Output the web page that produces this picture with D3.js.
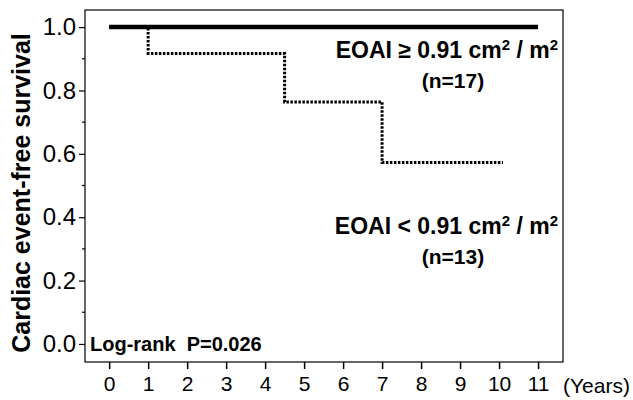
<!DOCTYPE html>
<html>
<head>
<meta charset="utf-8">
<title></title>
<script src="https://cdn.jsdelivr.net/npm/d3@7"></script>
<style>
  body { margin: 0; background: #fff; }
  text { font-family: "Liberation Sans", Arial, sans-serif; fill: #000; }
  .tick-label { font-size: 21px; }
  .note { font-size: 21px; font-weight: bold; white-space: pre; }
</style>
</head>
<body>
<script>
// data
var highTimes = [0, 11];
var highSurv  = [1.0, 1.0];
var lowTimes  = [0, 1, 4.5, 7, 10.1];
var lowSurv   = [1.0, 0.917, 0.764, 0.573, 0.573];
var xTicks = [0, 1, 2, 3, 4, 5, 6, 7, 8, 9, 10, 11];
var yTicks = [0, 0.2, 0.4, 0.6, 0.8, 1.0];
var yMinor = [0.1, 0.3, 0.5, 0.7, 0.9];

var width = 633, height = 400;
var box = {left: 85, right: 563, top: 10, bottom: 362};

var svg = d3.select("body").append("svg")
    .attr("width", width)
    .attr("height", height);

var x = d3.scaleLinear().domain([-0.62, 11.64]).range([box.left, box.right]);
var y = d3.scaleLinear().domain([-0.057, 1.054]).range([box.bottom, box.top]);

// frame
svg.append("rect")
    .attr("x", box.left).attr("y", box.top)
    .attr("width", box.right - box.left)
    .attr("height", box.bottom - box.top)
    .attr("fill", "none")
    .attr("stroke", "#000")
    .attr("stroke-width", 1.2);

// y axis
var yAxis = d3.axisLeft(y).tickValues(yTicks).tickSize(6).tickPadding(3)
    .tickFormat(d3.format(".1f"));
var gy = svg.append("g").attr("transform", "translate(" + box.left + ",0)").call(yAxis)
    .attr("font-size", null).attr("font-family", null);
gy.select(".domain").remove();
gy.selectAll("text").attr("class", "tick-label").style("font-size", "24px");
gy.selectAll("line").attr("stroke-width", 1.2);
gy.selectAll(".minor").data(yMinor).enter().append("line")
    .attr("x1", -3).attr("x2", 0)
    .attr("y1", function(d){ return y(d); })
    .attr("y2", function(d){ return y(d); })
    .attr("stroke", "#000").attr("stroke-width", 1.2);

// x axis
var xAxis = d3.axisBottom(x).tickValues(xTicks).tickSize(7).tickPadding(7);
var gx = svg.append("g").attr("transform", "translate(0," + box.bottom + ")").call(xAxis)
    .attr("font-size", null).attr("font-family", null);
gx.select(".domain").remove();
gx.selectAll("text").attr("class", "tick-label");
gx.selectAll("line").attr("stroke-width", 1.5);

svg.append("text")
    .attr("class", "tick-label")
    .attr("x", 563).attr("y", 393)
    .text("(Years)");

// y title
svg.append("text")
    .attr("class", "note")
    .style("font-size", "25px")
    .attr("text-anchor", "middle")
    .attr("transform", "translate(30,193) rotate(-90)")
    .text("Cardiac event-free survival");

// survival curves
var step = d3.line()
    .x(function(d){ return x(d[0]); })
    .y(function(d){ return y(d[1]); })
    .curve(d3.curveStepAfter);

svg.append("path")
    .attr("d", step(d3.zip(lowTimes, lowSurv)))
    .attr("fill", "none")
    .attr("stroke", "#000")
    .attr("stroke-width", 3)
    .attr("stroke-dasharray", "2.5,1.5");

svg.append("path")
    .attr("d", step(d3.zip(highTimes, highSurv)))
    .attr("fill", "none")
    .attr("stroke", "#000")
    .attr("stroke-width", 4.5);

// annotations, with raised 2 for the units
function groupLabel(sign, yPos) {
  var t = svg.append("text").attr("class", "note").attr("text-anchor", "end")
      .style("font-size", "23px")
      .attr("x", 558).attr("y", yPos);
  t.append("tspan").text("EOAI " + sign + " 0.91 cm");
  t.append("tspan").attr("dy", -8).style("font-size", "15px").text("2");
  t.append("tspan").attr("dy", 8).text(" / m");
  t.append("tspan").attr("dy", -8).style("font-size", "15px").text("2");
}
groupLabel("\u2265", 58);
svg.append("text").attr("class", "note").attr("text-anchor", "middle")
    .attr("x", 453).attr("y", 88).text("(n=17)");
groupLabel("<", 234);
svg.append("text").attr("class", "note").attr("text-anchor", "middle")
    .attr("x", 453).attr("y", 264).text("(n=13)");
svg.append("text").attr("class", "note")
    .style("font-size", "20px")
    .attr("x", 90).attr("y", 351).text("Log-rank  P=0.026");
</script>
</body>
</html>
